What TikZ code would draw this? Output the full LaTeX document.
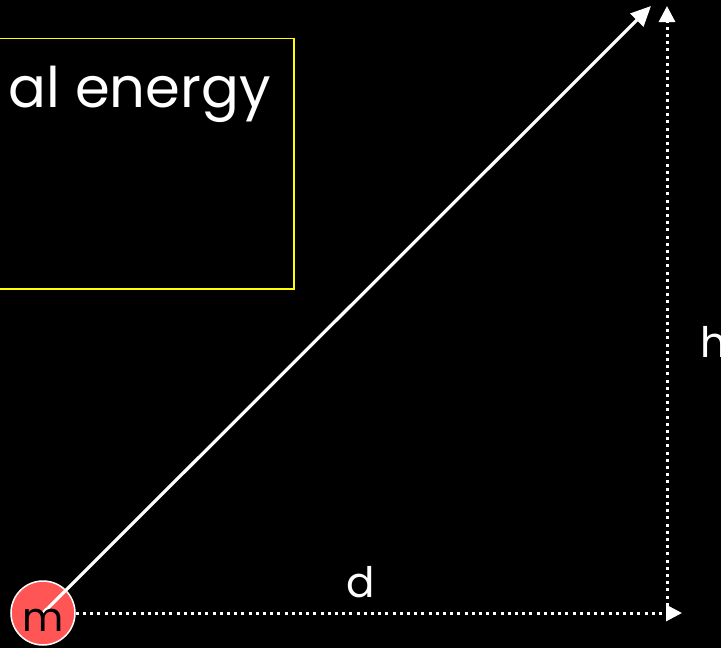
\documentclass[tikz,border=0pt]{standalone}
\usepackage{fontspec}
\setmainfont{Poppins}
\usetikzlibrary{arrows.meta}
\definecolor{massred}{RGB}{255,85,85}
\definecolor{boxyellow}{RGB}{255,255,0}
\tikzset{
  lbl/.style={text=white, inner sep=0pt, font=\fontsize{42}{50}\selectfont},
  dotline/.style={white, line width=3pt, dash pattern=on 3pt off 4.2pt,
    -{Triangle[length=16pt,width=16pt]}},
  solidarrow/.style={white, line width=3.2pt, -{Triangle[length=20pt,width=18pt]}},
}
\begin{document}
\begin{tikzpicture}[x=1pt,y=-1pt]
\fill[black] (0,0) rectangle (721,648);
\useasboundingbox (0,0) rectangle (721,648);
% yellow box (extends off the left edge)
\draw[boxyellow, line width=1.5pt] (-20,38.5) rectangle (294,289);
\node[lbl, anchor=base east, font=\fontsize{56}{64}\selectfont] (title) at (271,107) {al energy};
% corners
\coordinate (top) at (651,6);
\coordinate (vtop) at (667,6);
\coordinate (corner) at (667,613);
\coordinate (hend) at (682,613);
% mass
\node[circle, fill=massred, draw=white, line width=1.5pt, minimum size=64pt, inner sep=0pt] (m) at (43,613) {};
% arrows
\draw[dotline] (m.east) -- (hend);
\draw[dotline] (corner) -- (vtop);
\draw[solidarrow] (m.center) -- (top);
\node[text=black, inner sep=0pt, font=\fontsize{40}{50}\selectfont, anchor=base] (mlabel) at (43,631) {m};
% labels
\node[lbl, anchor=base] (d) at (361,597) {d};
\node[lbl, anchor=base west] (h) at (700,357) {h};
\end{tikzpicture}
\end{document}
